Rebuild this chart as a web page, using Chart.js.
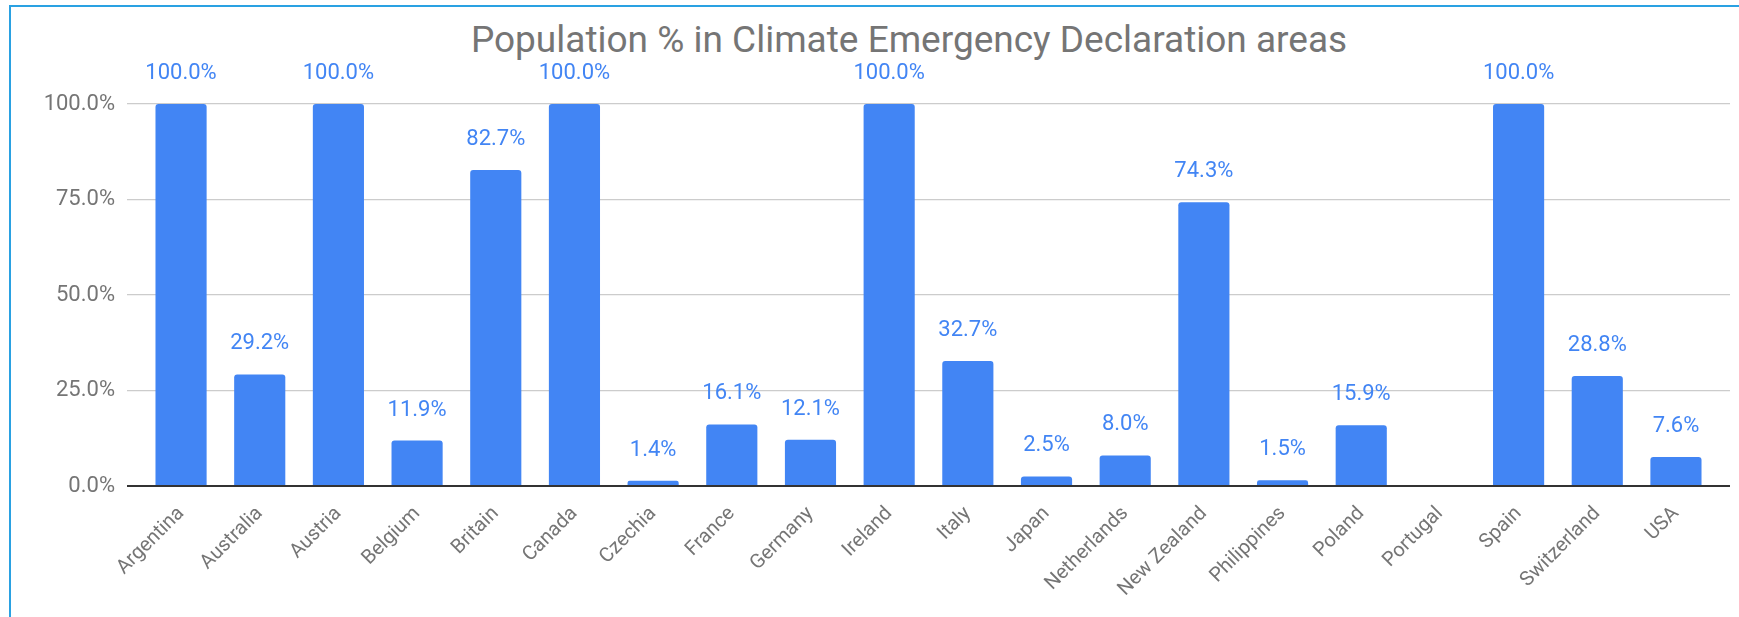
<!DOCTYPE html>
<html lang="en">
<head>
    <meta charset="UTF-8">
    <title>Population % in Climate Emergency Declaration areas</title>
    <script src="https://cdn.jsdelivr.net/npm/chart.js@4"></script>
    <style>
        html, body { margin: 0; padding: 0; background: #fff; }
        body { width: 1739px; height: 617px; overflow: hidden; position: relative; font-family: Roboto, sans-serif; }
        .frame {
            position: absolute; left: 9px; top: 5px; width: 1730px; height: 612px;
            border-left: 2px solid #2aa1e2; border-top: 2px solid #2aa1e2;
        }
        .chart-title {
            position: absolute; left: 0; top: 21px; width: 1818px; text-align: center;
            font-size: 37px; line-height: 37px; color: #757575; white-space: nowrap;
        }
        #chart { position: absolute; left: 11px; top: 7px; }
    </style>
</head>
<body>
    <div class="frame"></div>
    <div class="chart-title">Population % in Climate Emergency Declaration areas</div>
    <canvas id="chart" width="1728" height="610"></canvas>
    <script>
        // countries along the x axis
        var countries = ['Argentina', 'Australia', 'Austria', 'Belgium', 'Britain', 'Canada', 'Czechia',
            'France', 'Germany', 'Ireland', 'Italy', 'Japan', 'Netherlands', 'New Zealand',
            'Philippines', 'Poland', 'Portugal', 'Spain', 'Switzerland', 'USA'];
        // share of population in declaration areas (%), Portugal has no bar
        var popShare = [100, 29.2, 100, 11.9, 82.7, 100, 1.4, 16.1, 12.1, 100, 32.7, 2.5, 8.0, 74.3,
            1.5, 15.9, null, 100, 28.8, 7.6];
        var yTicks = [0, 25, 50, 75, 100];

        var grey = '#757575';
        Chart.defaults.font.family = 'Roboto';

        // value labels above each bar
        var barLabels = {
            id: 'barLabels',
            afterDatasetsDraw: function (chart) {
                var ctx = chart.ctx;
                var meta = chart.getDatasetMeta(0);
                ctx.save();
                ctx.font = '22px Roboto';
                ctx.fillStyle = '#4285f4';
                ctx.textAlign = 'center';
                ctx.textBaseline = 'alphabetic';
                meta.data.forEach(function (bar, i) {
                    if (popShare[i] == null) return;
                    ctx.fillText(popShare[i].toFixed(1) + '%', bar.x, bar.y - 25);
                });
                ctx.restore();
            }
        };

        new Chart(document.getElementById('chart'), {
            type: 'bar',
            data: {
                datasets: [{
                    data: popShare.map(function (v, i) { return { x: i, y: v }; }),
                    backgroundColor: '#4285f4',
                    borderRadius: 3,
                    categoryPercentage: 1,
                    barPercentage: 0.65
                }]
            },
            options: {
                responsive: false,
                animation: false,
                devicePixelRatio: 1,
                layout: { padding: { top: 97, right: 9, left: 0, bottom: 0 } },
                plugins: {
                    legend: { display: false },
                    tooltip: { enabled: false },
                    title: { display: false }
                },
                scales: {
                    x: {
                        type: 'linear',
                        bounds: 'data',
                        offset: false,
                        min: -0.687,
                        max: 19.687,
                        afterBuildTicks: function (s) { s.ticks = countries.map(function (c, i) { return { value: i }; }); },
                        afterFit: function (s) { s.height = 131; },
                        grid: { display: false },
                        border: { display: false },
                        ticks: {
                            autoSkip: false,
                            maxRotation: 45,
                            minRotation: 45,
                            padding: 8,
                            color: grey,
                            font: { size: 20 },
                            callback: function (v) { return countries[v] || ''; }
                        }
                    },
                    y: {
                        min: 0,
                        max: 100,
                        afterFit: function (s) { s.width = 116; },
                        afterBuildTicks: function (s) { s.ticks = yTicks.map(function (v) { return { value: v }; }); },
                        border: { display: false },
                        grid: {
                            drawTicks: false,
                            color: function (c) { return c.tick && c.tick.value === 0 ? '#333333' : '#cccccc'; },
                            lineWidth: function (c) { return c.tick && c.tick.value === 0 ? 2 : 1.3; }
                        },
                        ticks: {
                            padding: 12,
                            color: grey,
                            font: { size: 22 },
                            callback: function (v) { return v.toFixed(1) + '%'; }
                        }
                    }
                }
            },
            plugins: [barLabels]
        });
    </script>
</body>
</html>
